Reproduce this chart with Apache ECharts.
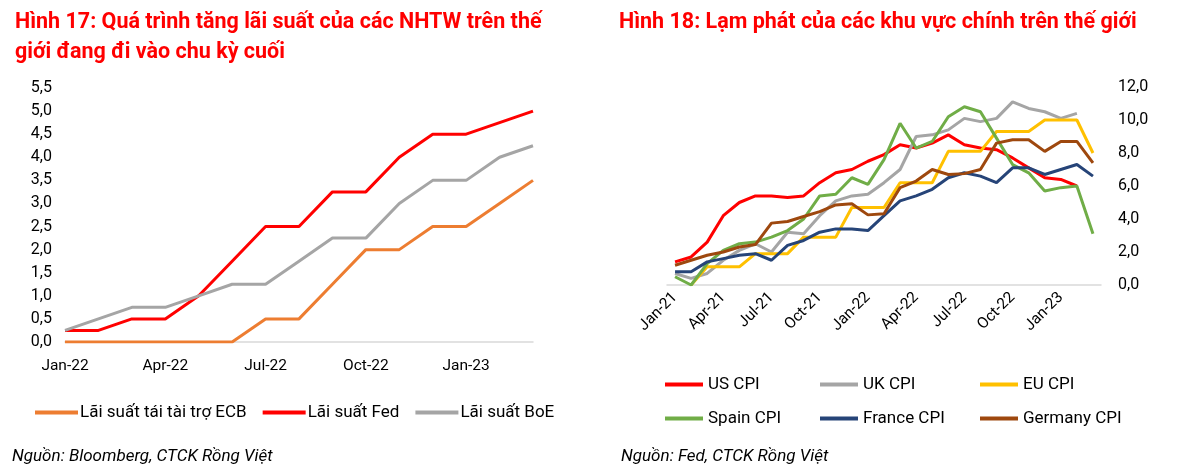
<!DOCTYPE html>
<html>
<head>
<meta charset="utf-8">
<script src="https://cdn.jsdelivr.net/npm/echarts@6/dist/echarts.min.js"></script>
<style>
html,body{margin:0;padding:0;background:#fff;}
#c{width:1200px;height:473px;}
</style>
</head>
<body>
<div id="c"></div>
<script>
// ---- Left chart: policy rates ----
const rateMonths = ['Jan-22','Feb-22','Mar-22','Apr-22','May-22','Jun-22','Jul-22','Aug-22','Sep-22','Oct-22','Nov-22','Dec-22','Jan-23','Feb-23','Mar-23'];
const ecbRate = [0,0,0,0,0,0,0.5,0.5,1.25,2.0,2.0,2.5,2.5,3.0,3.5];
const fedRate = [0.25,0.25,0.5,0.5,1.0,1.75,2.5,2.5,3.25,3.25,4.0,4.5,4.5,4.75,5.0];
const boeRate = [0.25,0.5,0.75,0.75,1.0,1.25,1.25,1.75,2.25,2.25,3.0,3.5,3.5,4.0,4.25];

// ---- Right chart: CPI ----
const cpiMonths = ['Jan-21','Feb-21','Mar-21','Apr-21','May-21','Jun-21','Jul-21','Aug-21','Sep-21','Oct-21','Nov-21','Dec-21',
  'Jan-22','Feb-22','Mar-22','Apr-22','May-22','Jun-22','Jul-22','Aug-22','Sep-22','Oct-22','Nov-22','Dec-22','Jan-23','Feb-23','Mar-23'];
const usCpi = [1.4,1.7,2.6,4.2,5.0,5.4,5.4,5.3,5.4,6.2,6.8,7.0,7.5,7.9,8.5,8.3,8.6,9.1,8.5,8.3,8.2,7.7,7.1,6.5,6.4,6.0,null];
const ukCpi = [0.7,0.4,0.7,1.5,2.1,2.5,2.0,3.2,3.1,4.2,5.1,5.4,5.5,6.2,7.0,9.0,9.1,9.4,10.1,9.9,10.1,11.1,10.7,10.5,10.1,10.4,null];
const euCpi = [null,0.0,1.1,1.1,1.1,1.9,1.9,1.9,2.9,2.9,2.9,4.7,4.7,4.7,6.2,6.2,6.2,8.1,8.1,8.1,9.3,9.3,9.3,10.0,10.0,10.0,8.0];
const spainCpi = [0.5,0.0,1.3,2.1,2.5,2.6,2.9,3.3,4.0,5.4,5.5,6.5,6.1,7.6,9.8,8.3,8.7,10.2,10.8,10.5,8.9,7.3,6.8,5.7,5.9,6.0,3.1];
const franceCpi = [0.8,0.8,1.4,1.6,1.8,1.9,1.5,2.4,2.7,3.2,3.4,3.4,3.3,4.2,5.1,5.4,5.8,6.5,6.8,6.6,6.2,7.1,7.1,6.7,7.0,7.3,6.6];
const germanyCpi = [1.2,1.5,1.8,2.0,2.3,2.45,3.75,3.85,4.15,4.45,4.85,4.92,4.25,4.32,5.9,6.3,7.0,6.7,6.75,7.0,8.6,8.8,8.8,8.1,8.7,8.7,7.4];

const FONT = 'Roboto';
const fmt = v => v.toFixed(1).replace('.', ',');

const chart = echarts.init(document.getElementById('c'), null, {renderer:'canvas'});

function line(name, data, color, xi, yi){
  return {name, type:'line', data, xAxisIndex:xi, yAxisIndex:yi, symbol:'none', showSymbol:false,
    connectNulls:false, lineStyle:{color, width:3}, itemStyle:{color}, animation:false};
}

const option = {
  animation:false,
  textStyle:{fontFamily:FONT},
  title:[
    {text:'Hình 17: Quá trình tăng lãi suất của các NHTW trên thế\ngiới đang đi vào chu kỳ cuối', left:10, top:3,
      textStyle:{fontFamily:FONT, fontSize:21.5, fontWeight:'bold', color:'#FF0000', lineHeight:30}},
    {text:'Hình 18: Lạm phát của các khu vực chính trên thế giới', left:614, top:3,
      textStyle:{fontFamily:FONT, fontSize:21.5, fontWeight:'bold', color:'#FF0000', lineHeight:30}}
  ],
  grid:[
    {left:65, top:88, width:468, height:254},
    {left:667, top:87, width:434, height:198}
  ],
  xAxis:[
    {type:'category', gridIndex:0, data:rateMonths, boundaryGap:false,
      axisLine:{lineStyle:{color:'#D9D9D9', width:1.5}}, axisTick:{show:false},
      axisLabel:{interval:2, color:'#000', fontSize:15.5, fontFamily:FONT, margin:16}},
    {type:'category', gridIndex:1, data:cpiMonths, boundaryGap:true,
      axisLine:{lineStyle:{color:'#D9D9D9', width:1.5}}, axisTick:{show:false},
      axisLabel:{interval:2, rotate:45, color:'#000', fontSize:15.5, fontFamily:FONT, margin:10}}
  ],
  yAxis:[
    {type:'value', gridIndex:0, min:0, max:5.5, interval:0.5,
      axisLine:{show:false}, axisTick:{show:false}, splitLine:{show:false},
      axisLabel:{color:'#000', fontSize:16, fontFamily:FONT, margin:13, formatter:fmt}},
    {type:'value', gridIndex:1, position:'right', min:0, max:12, interval:2,
      axisLine:{show:false}, axisTick:{show:false}, splitLine:{show:false},
      axisLabel:{color:'#000', fontSize:16, fontFamily:FONT, margin:17, formatter:fmt}}
  ],
  legend:[
    {data:['Lãi suất tái tài trợ ECB','Lãi suất Fed','Lãi suất BoE'], left:30, top:399, icon:'rect',
      itemWidth:43, itemHeight:4, itemGap:16, textStyle:{fontSize:17, color:'#000', fontFamily:FONT, padding:[0,0,0,-3]}},
    {data:['US CPI','Spain CPI'], orient:'vertical', left:660, top:371, icon:'rect',
      itemWidth:38, itemHeight:4, itemGap:17, textStyle:{fontSize:17, color:'#000', fontFamily:FONT}},
    {data:['UK CPI','France CPI'], orient:'vertical', left:815, top:371, icon:'rect',
      itemWidth:38, itemHeight:4, itemGap:17, textStyle:{fontSize:17, color:'#000', fontFamily:FONT}},
    {data:['EU CPI','Germany CPI'], orient:'vertical', left:975, top:371, icon:'rect',
      itemWidth:38, itemHeight:4, itemGap:17, textStyle:{fontSize:17, color:'#000', fontFamily:FONT}}
  ],
  graphic:[
    {type:'text', left:12, top:448, style:{text:'Nguồn: Bloomberg, CTCK Rồng Việt', fontFamily:FONT, fontSize:17, fontStyle:'italic', fill:'#000'}},
    {type:'text', left:621, top:448, style:{text:'Nguồn: Fed, CTCK Rồng Việt', fontFamily:FONT, fontSize:17, fontStyle:'italic', fill:'#000'}}
  ],
  series:[
    line('Lãi suất tái tài trợ ECB', ecbRate, '#ED7D31', 0, 0),
    line('Lãi suất Fed', fedRate, '#FF0000', 0, 0),
    line('Lãi suất BoE', boeRate, '#A5A5A5', 0, 0),
    line('US CPI', usCpi, '#FF0000', 1, 1),
    line('UK CPI', ukCpi, '#A5A5A5', 1, 1),
    line('EU CPI', euCpi, '#FFC000', 1, 1),
    line('Spain CPI', spainCpi, '#70AD47', 1, 1),
    line('France CPI', franceCpi, '#264478', 1, 1),
    line('Germany CPI', germanyCpi, '#9E480E', 1, 1)
  ]
};
chart.setOption(option);
</script>
</body>
</html>
